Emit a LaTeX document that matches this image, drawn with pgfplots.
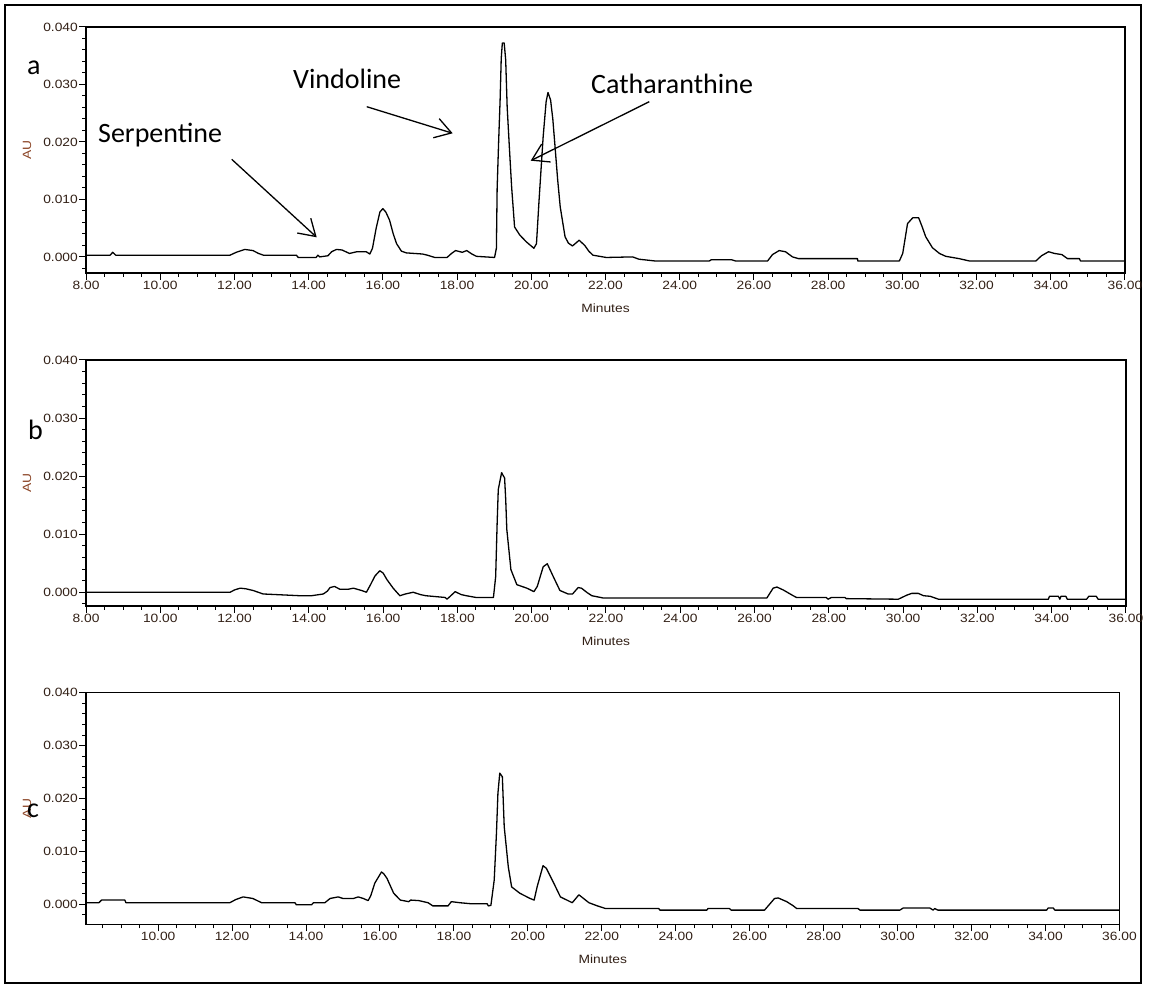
\documentclass[border=0pt]{standalone}
\usepackage{fontspec}
\usepackage{pgfplots}
\pgfplotsset{compat=1.18}
\usetikzlibrary{arrows.meta}
\setmainfont{Liberation Sans}
\newfontfamily\tickfont[FakeStretch=1.15]{Liberation Sans}
\newfontfamily\calib{Carlito}
\definecolor{tickcol}{RGB}{50,32,22}
\definecolor{aucol}{RGB}{140,70,40}

\pgfplotsset{chrom/.style={
  scale only axis, anchor=south west,
  xmax=36, ymax=0.040,
  axis line style={line width=1.5pt, black},
  tick align=outside, tick pos=left,
  major tick length=7pt, minor tick length=4pt,
  every tick/.style={line width=1pt, black},
  ytick={0,0.01,0.02,0.03,0.04},
  minor ytick={-0.002,0.002,0.004,0.006,0.008,0.012,0.014,0.016,0.018,0.022,0.024,0.026,0.028,0.032,0.034,0.036,0.038},
  minor xtick={8.5,9,...,35.5},
  scaled y ticks=false, scaled x ticks=false,
  xticklabel style={font=\tickfont\fontsize{12}{13}\selectfont, text=tickcol, inner sep=1pt,
     /pgf/number format/.cd, fixed, fixed zerofill, precision=2, assume math mode=true},
  yticklabel style={font=\tickfont\fontsize{12}{13}\selectfont, text=tickcol, inner sep=1pt,
     /pgf/number format/.cd, fixed, fixed zerofill, precision=3, assume math mode=true},
  xlabel={Minutes},
  xlabel style={at={(axis description cs:0.5,0)}, anchor=center, yshift=-35pt,
     font=\tickfont\fontsize{12}{13}\selectfont, text=tickcol},
  cycle list={{black, line width=1.3pt, line join=round, no markers}},
}}

\begin{document}
\begin{tikzpicture}[x=1pt,y=1pt]
\path[use as bounding box] (0pt,0pt) rectangle (1150pt,988pt);
\draw[line width=2pt] (5pt,5pt) rectangle (1141pt,983pt);

% ---------------- panel a
\begin{axis}[chrom, at={(86pt,715pt)}, width=1039pt, height=246pt,
  xmin=8, ymin=-0.0028, xtick={8,10,...,36}]
\addplot[black, line width=1.3pt, line join=round, no markers] coordinates {
(8.00,0.0003) (8.65,0.0003) (8.72,0.0008) (8.80,0.0003) (11.88,0.0003) (12.05,0.0008)
(12.28,0.0013) (12.5,0.0011) (12.65,0.0006) (12.78,0.0003) (13.67,0.0003) (13.72,-0.0001)
(14.2,-0.0001) (14.25,0.0003) (14.3,0.0000) (14.52,0.0002) (14.62,0.0009) (14.75,0.0013)
(14.9,0.0012) (15.1,0.0006) (15.3,0.0009) (15.55,0.0009) (15.65,0.0005) (15.72,0.0015)
(15.82,0.0050) (15.92,0.0078) (16.0,0.0084) (16.08,0.0078) (16.18,0.0064) (16.28,0.0040)
(16.37,0.0023) (16.5,0.0010) (16.63,0.0007) (17.07,0.0005) (17.2,0.0003) (17.4,-0.0001)
(17.73,-0.0001) (17.85,0.0006) (17.96,0.0011) (18.14,0.0008) (18.26,0.0011) (18.4,0.0005)
(18.52,0.0001) (19.01,-0.0001) (19.06,0.0015) (19.08,0.0119) (19.12,0.0200) (19.16,0.0273)
(19.19,0.0345) (19.22,0.0372) (19.27,0.0372) (19.31,0.0343) (19.35,0.0261) (19.41,0.0190)
(19.47,0.0122) (19.55,0.0052) (19.69,0.0038) (19.87,0.0026) (20.07,0.0015) (20.14,0.0023)
(20.21,0.0099) (20.32,0.0209) (20.40,0.0270) (20.45,0.0286) (20.52,0.0273) (20.58,0.0240)
(20.64,0.0192) (20.71,0.0135) (20.78,0.0087) (20.91,0.0035) (21.00,0.0024) (21.11,0.0019)
(21.29,0.0029) (21.44,0.0020) (21.55,0.0010) (21.66,0.0003) (22.02,-0.0001) (22.73,0.0000)
(22.9,-0.0004) (23.32,-0.0007) (24.80,-0.0007) (24.85,-0.0005) (25.4,-0.0005) (25.5,-0.0007)
(26.37,-0.0007) (26.5,0.0004) (26.68,0.0011) (26.85,0.0009) (27.04,0.0000) (27.2,-0.0003)
(28.79,-0.0003) (28.8,-0.0007) (29.92,-0.0007) (30.01,0.0006) (30.07,0.0030) (30.14,0.0058)
(30.28,0.0068) (30.44,0.0068) (30.53,0.0053) (30.63,0.0035) (30.81,0.0016) (31.0,0.0006)
(31.17,0.0001) (31.53,-0.0003) (31.8,-0.0007) (33.6,-0.0007) (33.75,0.0002) (33.94,0.0009)
(34.1,0.0006) (34.3,0.0004) (34.45,-0.0003) (34.77,-0.0003) (34.8,-0.0007) (36.0,-0.0007)
};
\end{axis}

% ---------------- panel b
\begin{axis}[chrom, at={(86pt,382pt)}, width=1040pt, height=246pt,
  xmin=8, ymin=-0.00237, xtick={8,10,...,36}]
\addplot[black, line width=1.3pt, line join=round, no markers] coordinates {
(8.0,0.0) (11.88,0.0) (12.0,0.0004) (12.15,0.0007) (12.3,0.0006) (12.5,0.0003) (12.77,-0.0003)
(13.76,-0.0006) (14.07,-0.0006) (14.39,-0.0003) (14.5,0.0002) (14.57,0.0008) (14.69,0.0010)
(14.84,0.0005) (15.05,0.0005) (15.2,0.0007) (15.42,0.0003) (15.55,0.0000) (15.66,0.0013)
(15.78,0.0028) (15.91,0.0037) (16.0,0.0033) (16.1,0.0022) (16.27,0.0007) (16.45,-0.0006)
(16.6,-0.0003) (16.81,0.0000) (17.0,-0.0004) (17.15,-0.0006) (17.67,-0.0009) (17.72,-0.0012)
(17.94,0.0001) (18.1,-0.0004) (18.24,-0.0006) (18.5,-0.0009) (18.97,-0.0009) (19.03,0.0027)
(19.07,0.0120) (19.1,0.0177) (19.19,0.0206) (19.24,0.0200) (19.27,0.0197) (19.3,0.0160)
(19.33,0.0108) (19.44,0.0039) (19.6,0.0013) (19.87,0.0007) (20.06,0.0001) (20.15,0.0010)
(20.31,0.0044) (20.42,0.0049) (20.58,0.0027) (20.76,0.0003) (20.98,-0.0003) (21.1,-0.0003)
(21.25,0.0008) (21.34,0.0007) (21.5,-0.0001) (21.62,-0.0006) (21.93,-0.0010) (26.33,-0.0010)
(26.5,0.0007) (26.6,0.0009) (26.77,0.0004) (27.04,-0.0006) (27.13,-0.0009) (27.93,-0.0009)
(27.98,-0.0012) (28.07,-0.0009) (28.43,-0.0009) (28.47,-0.0011) (29.87,-0.0012) (30.1,-0.0005)
(30.23,-0.0002) (30.41,-0.0002) (30.55,-0.0006) (30.73,-0.0007) (30.95,-0.0012) (33.91,-0.0012)
(33.94,-0.0007) (34.18,-0.0007) (34.22,-0.0012) (34.25,-0.0007) (34.38,-0.0007) (34.42,-0.0012)
(34.94,-0.0012) (35.0,-0.0007) (35.2,-0.0007) (35.25,-0.0012) (36.0,-0.0012)
};
\end{axis}

% ---------------- panel c
\begin{axis}[chrom, at={(86pt,63.7pt)}, width=1033.5pt, height=231.6pt,
  xmin=8.05, ymin=-0.00378, xtick={10,12,...,36}]
\addplot[black, line width=1.3pt, line join=round, no markers] coordinates {
(8.05,0.0003) (8.4,0.0003) (8.47,0.0008) (9.1,0.0008) (9.13,0.0003) (11.94,0.0003) (12.1,0.0009)
(12.3,0.0014) (12.56,0.0011) (12.8,0.0003) (13.7,0.0003) (13.74,-0.0001) (14.15,-0.0001)
(14.2,0.0003) (14.51,0.0003) (14.65,0.0011) (14.87,0.0014) (15.0,0.0011) (15.28,0.0011)
(15.41,0.0014) (15.55,0.0011) (15.68,0.0007) (15.75,0.0016) (15.86,0.0040) (16.04,0.0061)
(16.1,0.0058) (16.19,0.0049) (16.37,0.0021) (16.55,0.0008) (16.78,0.0005) (16.83,0.0008)
(17.05,0.0007) (17.3,0.0003) (17.43,-0.0003) (17.84,-0.0003) (17.93,0.0005) (18.16,0.0003)
(18.47,0.0001) (18.9,0.0001) (18.93,-0.0003) (19.0,-0.0002) (19.09,0.0046) (19.15,0.0134)
(19.19,0.0210) (19.24,0.0248) (19.31,0.0241) (19.36,0.0147) (19.47,0.0071) (19.56,0.0033)
(19.78,0.0021) (20.06,0.0011) (20.17,0.0008) (20.25,0.0033) (20.41,0.0073) (20.5,0.0068)
(20.7,0.0040) (20.88,0.0014) (21.2,0.0003) (21.38,0.0018) (21.65,0.0003) (21.88,-0.0003)
(22.1,-0.0008) (23.54,-0.0008) (23.57,-0.0011) (24.84,-0.0011) (24.87,-0.0008) (25.45,-0.0008)
(25.5,-0.0011) (26.4,-0.0011) (26.67,0.0011) (26.77,0.0012) (27.0,0.0005) (27.18,-0.0003)
(27.27,-0.0008) (28.93,-0.0008) (28.98,-0.0011) (30.06,-0.0011) (30.15,-0.0007) (30.87,-0.0007)
(30.96,-0.0011) (31.0,-0.0008) (31.09,-0.0011) (34.03,-0.0011) (34.07,-0.0007) (34.21,-0.0007)
(34.25,-0.0011) (36.0,-0.0011)
};
\end{axis}

% ---------------- annotations
\tikzset{lab/.style={inner sep=0pt, font=\calib\fontsize{28}{30}\selectfont}}
\tikzset{aul/.style={rotate=90, inner sep=0pt, font=\tickfont\fontsize{12}{13}\selectfont, text=aucol}}
\node[aul] at (27pt,838pt) {AU};
\node[aul] at (27pt,505pt) {AU};
\node[aul] at (27pt,179.5pt) {AU};
\node[lab, anchor=base west] at (27pt,913pt) {a};
\node[lab, anchor=base west] at (28pt,548pt) {b};
\node[lab, anchor=base west] at (27pt,171pt) {c};
\node[lab, anchor=base west] at (98pt,845pt) {Serpentine};
\node[lab, anchor=base west] at (293pt,899pt) {Vindoline};
\node[lab, anchor=base west] at (591pt,894pt) {Catharanthine};
\tikzset{arr/.style={line width=1.3pt, -{Straight Barb[length=16pt,width=20pt,line width=1.3pt]}}}
\draw[arr] (231.7pt,828.7pt) -- (316.7pt,750.7pt);
\draw[arr] (366.7pt,881.3pt) -- (452.7pt,854.7pt);
\draw[arr] (649.3pt,886.3pt) -- (530.7pt,827.3pt);
\end{tikzpicture}
\end{document}
